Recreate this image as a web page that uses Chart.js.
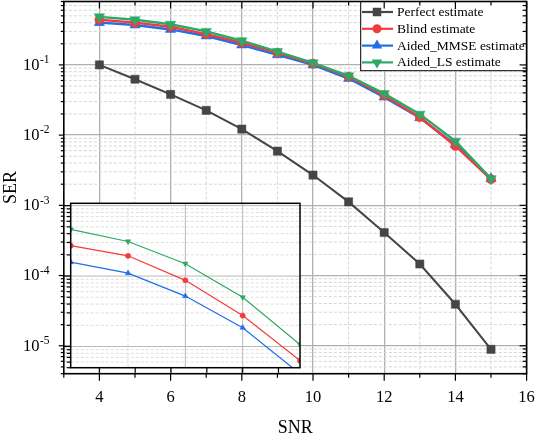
<!DOCTYPE html>
<html>
<head>
<meta charset="utf-8">
<script src="https://cdn.jsdelivr.net/npm/chart.js@4.4.0/dist/chart.umd.min.js"></script>
<style>
  html, body { margin: 0; padding: 0; background: #fff; }
  #wrap { position: relative; width: 538px; height: 436px; }
  #main { position: absolute; left: 0; top: 0; width: 538px; height: 436px; }
  #inset { position: absolute; left: 56px; top: 196px; width: 250px; height: 190px; }
</style>
</head>
<body>
<div id="wrap">
  <canvas id="main" width="538" height="436"></canvas>
  <canvas id="inset" width="250" height="190"></canvas>
</div>
<script>
// main plot data
const snr = [4, 5, 6, 7, 8, 9, 10, 11, 12, 13, 14, 15];
const perfect = [0.1, 0.0625, 0.038, 0.0225, 0.0122, 0.0059, 0.0027, 0.00112, 0.00041, 0.000146, 0.000039, 0.0000089];
const blind = [0.44, 0.40, 0.35, 0.275, 0.207, 0.149, 0.104, 0.068, 0.0367, 0.018, 0.0070, 0.00235];
const mmse = [0.40, 0.37, 0.32, 0.258, 0.192, 0.139, 0.100, 0.064, 0.0348, 0.0177, 0.0073, 0.0024];
const ls = [0.484, 0.44, 0.38, 0.30, 0.221, 0.155, 0.107, 0.070, 0.039, 0.0199, 0.0082, 0.0024];

// inset data
const insetSnr = [3.2, 4.8, 6.4, 8.0, 9.6];
const insetBlind = [2.7e-4, 1.94e-4, 8.7e-5, 2.75e-5, 6.3e-6];
const insetMmse = [1.58e-4, 1.1e-4, 5.2e-5, 1.85e-5, 4.1e-6];
const insetLs = [4.6e-4, 3.1e-4, 1.5e-4, 5.0e-5, 1.07e-5];

// tick labels
const xTickLabels = [4, 6, 8, 10, 12, 14, 16];
const yTickExps = [-1, -2, -3, -4, -5];

const seriesNames = ['Perfect estimate', 'Blind estimate', 'Aided_MMSE estimate', 'Aided_LS estimate'];
const colors = ['#454545', '#f23c3c', '#1f6fe6', '#2ea866'];
const styles = ['rect', 'circle', 'triangle', 'triangle'];
const rotations = [0, 0, 0, 180];

const serif = 'Liberation Serif, Times New Roman, serif';
const pts = (xs, ys) => xs.map((x, i) => ({ x: x, y: ys[i] }));
const isDecade = v => Math.abs(Math.log10(v) - Math.round(Math.log10(v))) < 1e-6;

function logValues(min, max) {
  const out = [];
  for (let e = -7; e <= 1; e++) {
    for (let m = 1; m <= 9; m++) {
      const v = m * Math.pow(10, e);
      if (v >= min * 0.999 && v <= max * 1.001) out.push(v);
    }
  }
  return out;
}

function marker(ctx, style, rot, x, y, r, color) {
  ctx.save();
  ctx.fillStyle = color;
  ctx.beginPath();
  if (style === 'rect') {
    const s = Math.SQRT1_2 * r;
    ctx.rect(x - s, y - s, 2 * s, 2 * s);
  } else if (style === 'circle') {
    ctx.arc(x, y, r, 0, Math.PI * 2);
  } else {
    let a = rot * Math.PI / 180;
    ctx.moveTo(x + Math.sin(a) * r, y - Math.cos(a) * r);
    a += 2 * Math.PI / 3;
    ctx.lineTo(x + Math.sin(a) * r, y - Math.cos(a) * r);
    a += 2 * Math.PI / 3;
    ctx.lineTo(x + Math.sin(a) * r, y - Math.cos(a) * r);
    ctx.closePath();
  }
  ctx.fill();
  ctx.restore();
}

function line(ctx, x1, y1, x2, y2) {
  ctx.beginPath();
  ctx.moveTo(x1, y1);
  ctx.lineTo(x2, y2);
  ctx.stroke();
}

const mainDecor = {
  id: 'mainDecor',
  beforeDatasetsDraw(chart) {
    const { ctx, chartArea: a, scales: { x, y } } = chart;
    ctx.save();
    ctx.strokeStyle = '#d6d6d6';
    ctx.lineWidth = 1;
    ctx.setLineDash([3, 2]);
    for (let v = 3; v <= 16; v++) {
      if (v % 2 === 0) continue;
      const px = x.getPixelForValue(v);
      line(ctx, px, a.top, px, a.bottom);
    }
    logValues(y.min, y.max).forEach(v => {
      if (isDecade(v)) return;
      const py = y.getPixelForValue(v);
      line(ctx, a.left, py, a.right, py);
    });
    ctx.restore();
  },
  afterDatasetsDraw(chart) {
    const { ctx, chartArea: a } = chart;
    // legend box
    const lx = 360.7, ly = a.top, lw = a.right - 360.7, lh = 69.2;
    ctx.save();
    ctx.fillStyle = '#fff';
    ctx.fillRect(lx, ly, lw, lh);
    ctx.strokeStyle = '#000';
    ctx.lineWidth = 1;
    ctx.strokeRect(lx, ly, lw, lh);
    ctx.font = '13.5px ' + serif;
    ctx.textBaseline = 'middle';
    ctx.textAlign = 'left';
    seriesNames.forEach((name, i) => {
      const cy = ly + 10.5 + i * 16.8;
      ctx.strokeStyle = colors[i];
      ctx.lineWidth = 2.2;
      line(ctx, 362, cy, 393, cy);
      marker(ctx, styles[i], rotations[i], 377, cy, styles[i] === 'circle' ? 4.5 : 6, colors[i]);
      ctx.fillStyle = '#000';
      ctx.fillText(name, 397, cy + 0.5);
    });
    ctx.restore();
  },
  afterDraw(chart) {
    const { ctx, chartArea: a, scales: { x, y } } = chart;
    ctx.save();
    ctx.strokeStyle = '#000';
    ctx.lineWidth = 1.2;
    for (let v = 3; v <= 16; v++) {
      const px = x.getPixelForValue(v);
      const len = v % 2 === 0 ? 7 : 4;
      line(ctx, px, a.bottom, px, a.bottom + len);
      line(ctx, px, a.top, px, a.top + len);
    }
    logValues(y.min, y.max).forEach(v => {
      const py = y.getPixelForValue(v);
      const d = isDecade(v);
      line(ctx, a.left - (d ? 5 : 3), py, a.left, py);
      line(ctx, a.right - (d ? 7 : 4), py, a.right, py);
    });
    ctx.lineWidth = 1.6;
    ctx.strokeRect(a.left, a.top, a.right - a.left, a.bottom - a.top);
    ctx.fillStyle = '#000';
    ctx.textBaseline = 'alphabetic';
    // x tick labels
    ctx.font = '16.5px ' + serif;
    ctx.textAlign = 'center';
    xTickLabels.forEach(v => {
      ctx.fillText(String(v), x.getPixelForValue(v), a.bottom + 27.8);
    });
    // y tick labels 10^n
    yTickExps.forEach(e => {
      const py = y.getPixelForValue(Math.pow(10, e));
      ctx.font = '16.5px ' + serif;
      ctx.textAlign = 'right';
      ctx.fillText('10', 39.5, py + 4.8);
      ctx.font = '11.5px ' + serif;
      ctx.textAlign = 'left';
      ctx.fillText(String(e), 40, py - 1.8);
    });
    ctx.restore();
  }
};

new Chart(document.getElementById('main'), {
  type: 'line',
  data: {
    datasets: [perfect, blind, mmse, ls].map((ys, i) => ({
      label: seriesNames[i],
      data: pts(snr, ys),
      borderColor: colors[i],
      backgroundColor: colors[i],
      borderWidth: i === 0 ? 2 : 2.4,
      pointStyle: styles[i],
      rotation: rotations[i],
      pointRadius: i === 0 ? 5.8 : (i === 1 ? 4.6 : 6),
      pointBorderWidth: 0.5,
      order: [4, 2, 3, 1][i],
      tension: 0
    }))
  },
  options: {
    responsive: false,
    animation: false,
    devicePixelRatio: 1,
    layout: { autoPadding: false, padding: { top: 1.5, right: 11.4, left: 0, bottom: 0 } },
    plugins: { legend: { display: false }, tooltip: { enabled: false } },
    scales: {
      x: {
        type: 'linear',
        min: 3,
        max: 16,
        afterFit: s => { s.height = 62.3; },
        ticks: { display: false, stepSize: 1, autoSkip: false, maxRotation: 0 },
        grid: {
          drawTicks: false,
          lineWidth: 1.3,
          color: c => (c.tick && c.tick.value % 2 === 0) ? '#b0b0b0' : 'rgba(0,0,0,0)'
        },
        border: { display: false },
        title: {
          display: true,
          text: 'SNR',
          color: '#000',
          font: { family: serif, size: 18 },
          padding: { top: -3, bottom: -3 }
        }
      },
      y: {
        type: 'logarithmic',
        min: 4e-6,
        max: 0.8,
        afterFit: s => { s.width = 63.8; },
        ticks: { display: false, autoSkip: false },
        grid: {
          drawTicks: false,
          lineWidth: 1.3,
          color: c => (c.tick && isDecade(c.tick.value)) ? '#b0b0b0' : 'rgba(0,0,0,0)'
        },
        border: { display: false },
        title: {
          display: true,
          text: 'SER',
          color: '#000',
          font: { family: serif, size: 18 },
          padding: { top: 0, bottom: 0 }
        }
      }
    }
  },
  plugins: [mainDecor]
});

const insetDecor = {
  id: 'insetDecor',
  beforeDatasetsDraw(chart) {
    const { ctx, chartArea: a, scales: { x, y } } = chart;
    ctx.save();
    ctx.fillStyle = '#fff';
    ctx.fillRect(a.left, a.top, a.right - a.left, a.bottom - a.top);
    ctx.lineWidth = 1;
    ctx.strokeStyle = '#dedede';
    ctx.setLineDash([3, 2]);
    logValues(y.min, y.max).forEach(v => {
      if (isDecade(v)) return;
      const py = y.getPixelForValue(v);
      line(ctx, a.left, py, a.right, py);
    });
    line(ctx, x.getPixelForValue(4.8), a.top, x.getPixelForValue(4.8), a.bottom);
    ctx.setLineDash([]);
    ctx.strokeStyle = '#b8b8b8';
    logValues(y.min, y.max).forEach(v => {
      if (!isDecade(v)) return;
      const py = y.getPixelForValue(v);
      line(ctx, a.left, py, a.right, py);
    });
    [6.4, 8.0].forEach(v => {
      const px = x.getPixelForValue(v);
      line(ctx, px, a.top, px, a.bottom);
    });
    ctx.restore();
  },
  afterDraw(chart) {
    const { ctx, chartArea: a, scales: { x, y } } = chart;
    ctx.save();
    ctx.strokeStyle = '#000';
    ctx.lineWidth = 1.2;
    logValues(y.min, y.max).forEach(v => {
      const py = y.getPixelForValue(v);
      line(ctx, a.left - (isDecade(v) ? 7 : 4), py, a.left, py);
    });
    for (let v = 4; v <= 9; v++) {
      const px = x.getPixelForValue(v);
      line(ctx, px, a.bottom, px, a.bottom + 5);
    }
    ctx.lineWidth = 1.5;
    ctx.strokeRect(a.left, a.top, a.right - a.left, a.bottom - a.top);
    ctx.restore();
  }
};

new Chart(document.getElementById('inset'), {
  type: 'line',
  data: {
    datasets: [insetBlind, insetMmse, insetLs].map((ys, j) => {
      const i = j + 1;
      return {
        label: seriesNames[i],
        data: pts(insetSnr, ys),
        borderColor: colors[i],
        backgroundColor: colors[i],
        borderWidth: 1.2,
        pointStyle: styles[i],
        rotation: rotations[i],
        pointRadius: styles[i] === 'circle' ? 2.6 : 3.2,
        pointBorderWidth: 0.5,
        clip: 0,
        tension: 0
      };
    })
  },
  options: {
    responsive: false,
    animation: false,
    devicePixelRatio: 1,
    layout: { autoPadding: false, padding: { left: 14.7, top: 7.3, right: 6, bottom: 18.3 } },
    plugins: { legend: { display: false }, tooltip: { enabled: false } },
    scales: {
      x: { type: 'linear', min: 3.2, max: 9.6, display: false },
      y: { type: 'logarithmic', min: 5e-6, max: 1.08e-3, display: false }
    }
  },
  plugins: [insetDecor]
});
</script>
</body>
</html>
